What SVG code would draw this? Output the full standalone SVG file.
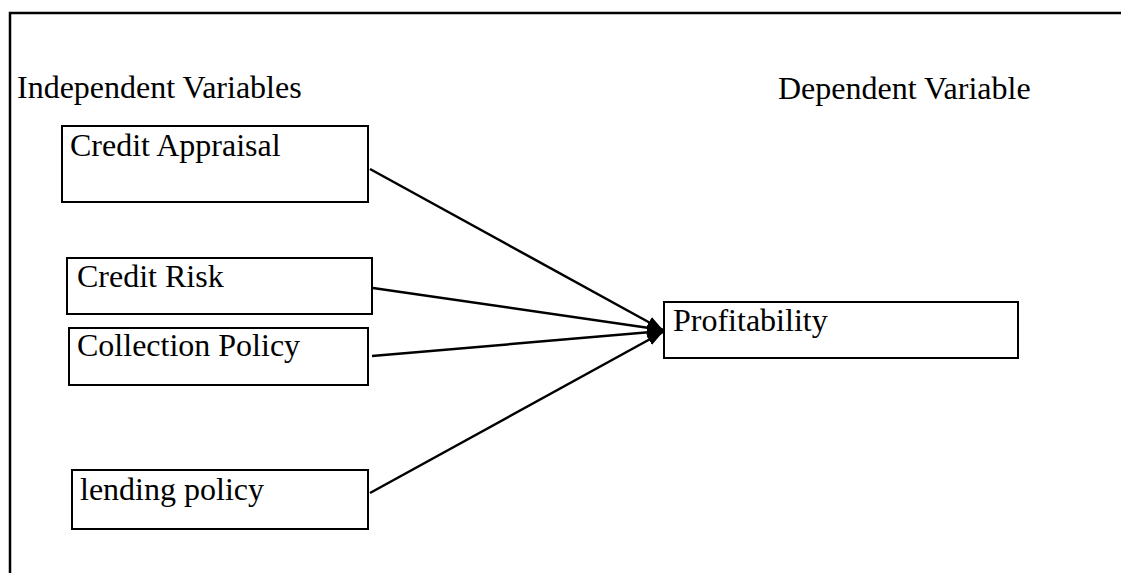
<svg xmlns="http://www.w3.org/2000/svg" width="1121" height="573" viewBox="0 0 1121 573">
<style>
.t{font-family:"Liberation Serif","Times New Roman","DejaVu Serif",serif;font-size:32px;fill:#000}
.b{fill:#fff;stroke:#000;stroke-width:2}
.c{stroke:#000;stroke-width:2.5;fill:none}
.f{stroke:#000;stroke-width:2.5;fill:none}
</style>
<defs>
<marker id="ah" viewBox="0 0 16 12" refX="16" refY="6" markerWidth="16" markerHeight="12" markerUnits="userSpaceOnUse" orient="auto"><path d="M0,0 L16,6 L0,12 z" fill="#000"/></marker>
</defs>
<rect width="1121" height="573" fill="#fff"/>
<path d="M10,573 V13 H1121" class="f"/>
<text class="t" x="17" y="98">Independent Variables</text>
<text class="t" x="778" y="99">Dependent Variable</text>
<g id="credit-appraisal"><rect class="b" x="62" y="126" width="306" height="76"/><text class="t" x="70" y="156">Credit Appraisal</text></g>
<g id="credit-risk"><rect class="b" x="67" y="258" width="305" height="56"/><text class="t" x="77" y="287">Credit Risk</text></g>
<g id="collection-policy"><rect class="b" x="69" y="328" width="299" height="57"/><text class="t" x="77" y="356">Collection Policy</text></g>
<g id="lending-policy"><rect class="b" x="72" y="470" width="296" height="59"/><text class="t" x="80" y="500">lending policy</text></g>
<g id="profitability"><rect class="b" x="664" y="302" width="354" height="56"/><text class="t" x="673" y="331">Profitability</text></g>
<g id="connectors">
<line class="c" x1="370" y1="169" x2="663" y2="330" marker-end="url(#ah)"/>
<line class="c" x1="373" y1="288" x2="663" y2="330" marker-end="url(#ah)"/>
<line class="c" x1="372" y1="356" x2="663" y2="331" marker-end="url(#ah)"/>
<line class="c" x1="370" y1="493" x2="663" y2="332" marker-end="url(#ah)"/>
</g>
</svg>
